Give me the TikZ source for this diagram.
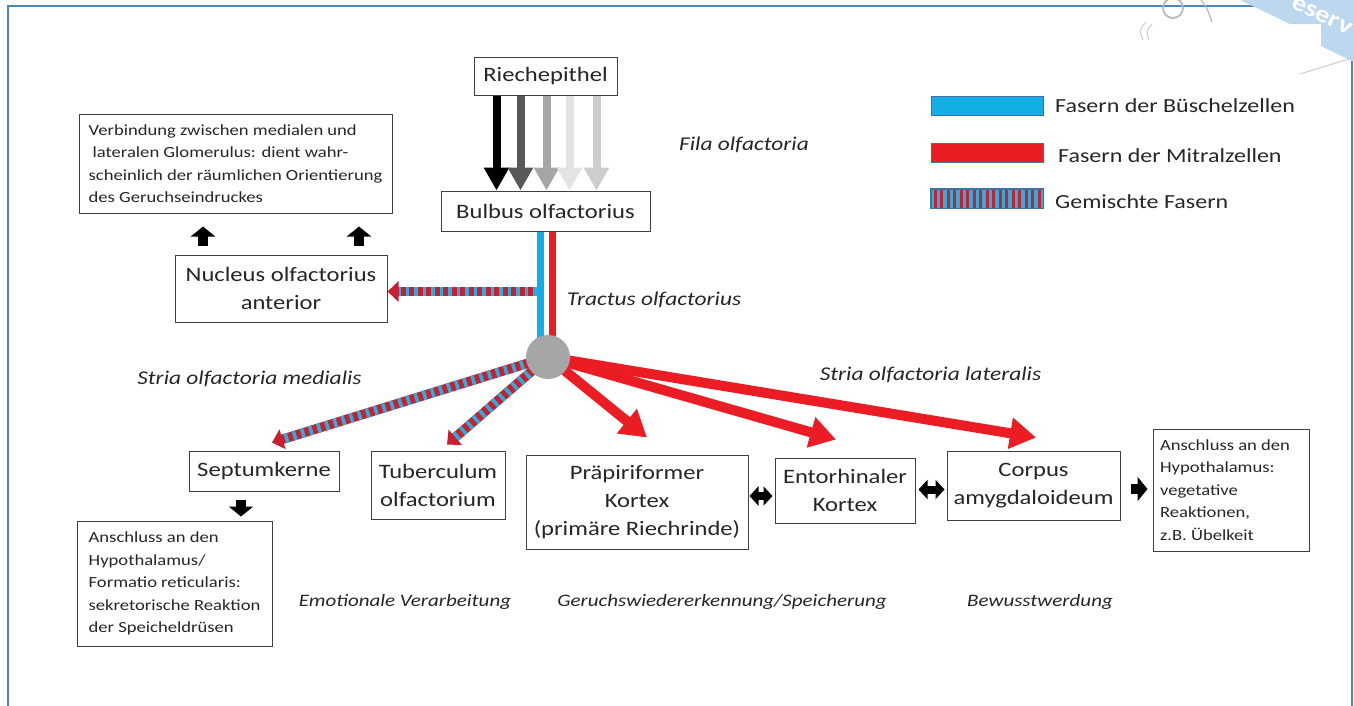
\documentclass[tikz,border=0pt]{standalone}
\usepackage{fontspec}
\setmainfont{Carlito}[FakeStretch=1.2]
\usetikzlibrary{arrows.meta,calc}
\definecolor{frameblue}{HTML}{4A86C5}
\definecolor{boxline}{HTML}{404040}
\definecolor{txt}{HTML}{262626}
\definecolor{fblue}{HTML}{14AEE6}
\definecolor{fred}{HTML}{EC1C24}
\definecolor{mred}{HTML}{C8202E}
\definecolor{mblue}{HTML}{2AAEE0}
\definecolor{wmblue}{HTML}{BDD7EE}
\definecolor{hubgray}{HTML}{A6A6A6}
\definecolor{gA}{HTML}{595959}
\definecolor{gB}{HTML}{A6A6A6}
\definecolor{gC}{HTML}{E3E3E3}
\definecolor{gD}{HTML}{CDCDCD}
\definecolor{legborder}{HTML}{41719C}
\begin{document}
\begin{tikzpicture}[x=1pt,y=-1pt,
  box/.style={draw=boxline, line width=1pt, fill=white, inner sep=0pt, align=center,
    font=\fontsize{20.5}{28}\selectfont, text=txt},
  note/.style={draw=boxline, line width=1pt, fill=white, inner sep=0pt, align=left,
    font=\fontsize{15.5}{22.5}\selectfont, text=txt},
  lab/.style={font=\fontsize{19.5}{24}\selectfont\itshape, text=txt},
  blab/.style={font=\fontsize{17.5}{22}\selectfont\itshape, text=txt},
  leg/.style={font=\fontsize{20}{24}\selectfont, text=txt, anchor=west, inner sep=0pt},
  legrect/.style={draw=legborder, line width=0.8pt, minimum width=112pt, minimum height=19pt, inner sep=0pt},
  grayarrow/.style={line width=8pt, -{Triangle[length=23pt,width=24pt]}},
  redarrow/.style={draw=fred, line width=10pt, -{Triangle[length=26pt,width=30pt]}},
  mixbase/.style={draw=mred, line width=9.5pt, -{Triangle[length=11pt,width=20pt]}},
  mixdash/.style={draw=mblue, line width=9.5pt, dash pattern=on 3.5pt off 5pt, shorten >=11pt},
  blk/.style={draw=black, line width=10pt, -{Triangle[length=10pt,width=24pt]}},
  dbl/.style={draw=black, line width=8pt, {Triangle[length=9pt,width=19pt]}-{Triangle[length=9pt,width=19pt]}}
]
\useasboundingbox (0,0) rectangle (1354,705);

% frame
\draw[frameblue, line width=2pt] (8,706) -- (8,6) -- (1352,6) -- (1352,706);

% watermark remains
\fill[wmblue] (1240,0) -- (1354,0) -- (1354,62) -- (1321,46) -- (1321,24) -- (1290,24) -- cycle;
\node[white, rotate=-25, inner sep=0pt, font=\fontsize{24}{24}\selectfont\bfseries] (wm) at (1322,16) {eserv};
\draw[gray!55, line width=1.8pt] (1173,8) circle[radius=10];
\draw[gray!55, line width=1.2pt] (1201,0) .. controls (1207,8) .. (1212,22);
\draw[gray!40, line width=1pt] (1146,22) .. controls (1139,30) .. (1143,40);
\draw[gray!40, line width=1pt] (1152,24) .. controls (1146,31) .. (1149,40);
\draw[gray!40, line width=1pt] (1300,74) -- (1352,58);

% nodes
\node[box, minimum width=143pt, minimum height=38pt] (riech) at (545.5,76) {Riechepithel};
\node[box, minimum width=209pt, minimum height=40pt] (bulb) at (545.5,211) {Bulbus olfactorius};
\node[note, minimum width=313pt, minimum height=99pt] (glom) at (235.5,163.5)
  {\hspace*{0pt}Verbindung zwischen medialen und\\\hspace*{4pt}lateralen Glomerulus: dient wahr-\\scheinlich der räumlichen Orientierung\\des Geruchseindruckes};
\node[box, minimum width=212pt, minimum height=67pt] (nuc) at (281,288.5) {Nucleus olfactorius\\anterior};
\node[circle, minimum size=44pt, inner sep=0pt] (hub) at (548,357) {};
\node[box, minimum width=150pt, minimum height=40pt] (sept) at (264,471) {Septumkerne};
\node[box, minimum width=134pt, minimum height=68pt] (tub) at (438,485) {Tuberculum\\olfactorium};
\node[box, minimum width=222pt, minimum height=94pt] (prae) at (637,502) {Präpiriformer\\Kortex\\(primäre Riechrinde)};
\node[box, minimum width=140pt, minimum height=65pt] (ento) at (845,490.5) {Entorhinaler\\Kortex};
\node[box, minimum width=173pt, minimum height=69pt] (corp) at (1033.5,485.5) {Corpus\\amygdaloideum};
\node[note, minimum width=156pt, minimum height=122pt] (hypo) at (1231,490)
  {Anschluss an den\rule{12pt}{0pt}\\Hypothalamus:\\vegetative\\Reaktionen,\\z.B. Übelkeit};
\node[note, minimum width=195pt, minimum height=125pt] (sek) at (174.5,583.5)
  {Anschluss an den\\Hypothalamus/\\Formatio reticularis:\\sekretorische Reaktion\\der Speicheldrüsen};

% labels
\node[lab] (fila) at (744,145) {Fila olfactoria};
\node[lab] (tract) at (654,300) {Tractus olfactorius};
\node[lab] (smed) at (249.5,379) {Stria olfactoria medialis};
\node[lab] (slat) at (930.5,375) {Stria olfactoria lateralis};
\node[blab] (emo) at (405,602) {Emotionale Verarbeitung};
\node[blab] (ger) at (722,602) {Geruchswiedererkennung/Speicherung};
\node[blab] (bew) at (1040,602) {Bewusstwerdung};

% legend
\node[legrect, fill=fblue] (legb) at (987,105.5) {};
\node[legrect, fill=fred] (legr) at (987,152.5) {};
\node[legrect, fill=mblue] (legm) at (987,198.5) {};
\foreach \i in {0,...,16}
  \fill[mred] ($(legm.west)+(3+\i*6.5,-9)$) rectangle ++(3.3,18);
\draw[legborder, line width=0.8pt] (legm.north west) rectangle (legm.south east);
\node[leg] (tlegb) at (1055,106) {Fasern der Büschelzellen};
\node[leg] (tlegr) at (1058,156) {Fasern der Mitralzellen};
\node[leg] (tlegm) at (1055,202) {Gemischte Fasern};

% Fila olfactoria arrows
\foreach \dx/\c in {-49/black,-25/gA,1/gB,24/gC,51/gD}
  \draw[grayarrow, draw=\c] ([xshift=\dx pt]riech.south) -- ([xshift=\dx pt]bulb.north);

% Tractus
\draw[fblue, line width=7pt] ([xshift=-5.5pt]bulb.south) -- ([xshift=-8pt]hub.center);
\draw[fred, line width=7pt] ([xshift=6.5pt]bulb.south) -- ([xshift=4pt]hub.center);

% mixed arrow to nucleus
\coordinate (tn) at ($(bulb.south)+(-9,60)$);
\draw[mixbase] (tn) -- (tn -| nuc.east);
\draw[mixdash] (tn) -- (tn -| nuc.east);

% mixed arrows (stria medialis)
\draw[mixbase] (hub.center) -- ([shift={(8,-8)}]sept.north);
\draw[mixdash] (hub.center) -- ([shift={(8,-8)}]sept.north);
\draw[mixbase] (hub.center) -- ([shift={(9,-6)}]tub.north);
\draw[mixdash] (hub.center) -- ([shift={(9,-6)}]tub.north);

% red arrows (stria lateralis)
\draw[redarrow] (hub.center) -- ([shift={(10,-17)}]prae.north);
\draw[redarrow] (hub.center) -- ([shift={(-9,-18)}]ento.north);
\draw[redarrow] (hub.center) -- ([shift={(2.5,-13)}]corp.north);

% hub
\fill[hubgray] (hub.center) circle[radius=22];

% small black arrows
\draw[blk] ($(nuc.north)+(-78,-9)$) -- ++(0,-19);
\draw[blk] ($(nuc.north)+(78,-9)$) -- ++(0,-19);
\draw[blk] ($(sept.south)+(-23,8)$) -- ++(0,17);
\draw[dbl] ([shift={(1,-6)}]prae.east) -- ([shift={(-2,5.5)}]ento.west);
\draw[dbl] ([shift={(3,-1)}]ento.east) -- ([shift={(-2,4)}]corp.west);
\draw[blk] ([shift={(10,3.5)}]corp.east) -- ([shift={(-5,-1)}]hypo.west);
\end{tikzpicture}
\end{document}
